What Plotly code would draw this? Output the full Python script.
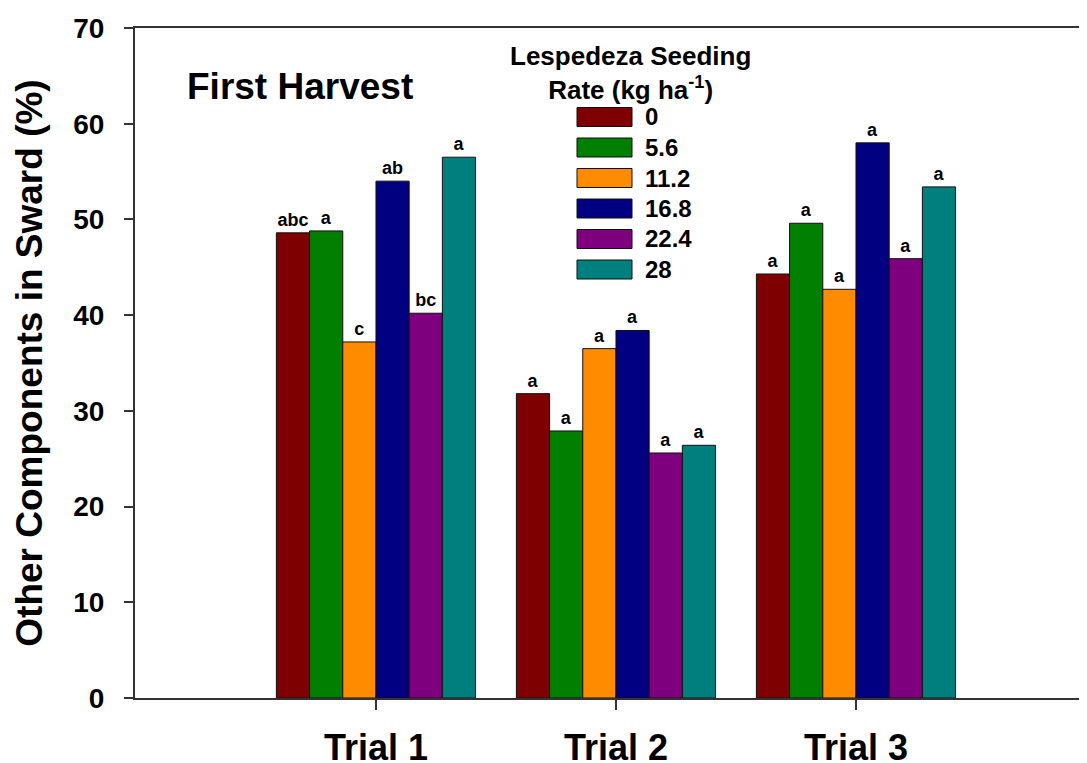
import plotly.graph_objects as go

# ---- data ----
trials = ["Trial 1", "Trial 2", "Trial 3"]
rates = ["0", "5.6", "11.2", "16.8", "22.4", "28"]
rate_0 = [48.6, 31.8, 44.3]
rate_5_6 = [48.8, 27.9, 49.6]
rate_11_2 = [37.2, 36.5, 42.7]
rate_16_8 = [54.0, 38.4, 58.0]
rate_22_4 = [40.2, 25.6, 45.9]
rate_28 = [56.5, 26.4, 53.4]
letters_0 = ["abc", "a", "a"]
letters_5_6 = ["a", "a", "a"]
letters_11_2 = ["c", "a", "a"]
letters_16_8 = ["ab", "a", "a"]
letters_22_4 = ["bc", "a", "a"]
letters_28 = ["a", "a", "a"]
y_ticks = [0, 10, 20, 30, 40, 50, 60, 70]

series = [rate_0, rate_5_6, rate_11_2, rate_16_8, rate_22_4, rate_28]
letters = [letters_0, letters_5_6, letters_11_2, letters_16_8, letters_22_4, letters_28]
colors = ["#7f0000", "#007f00", "#ff8c00", "#000080", "#7f007f", "#007f7f"]

# page has an 8px body margin; size the figure so it fits the 1087x763 window
OFF = 8
W, H = 1087 - OFF, 763 - OFF
ML, MR, MT, MB = 135 - OFF, 0, 28 - OFF, 65
PW, PH = W - ML - MR, H - MT - MB


def px_x(px):
    return (px - OFF - ML) / PW


def px_y(py):
    return (H - MB - (py - OFF)) / PH


FONT = "Liberation Sans, Arial, sans-serif"

fig = go.Figure()
for name, vals, lab, col in zip(rates, series, letters, colors):
    fig.add_trace(go.Bar(
        x=trials, y=vals, name=name, text=lab,
        textposition="outside", constraintext="none", cliponaxis=False,
        textfont=dict(size=18, color="black", family=FONT, weight="bold"),
        marker=dict(color=col, line=dict(color="#111111", width=1)),
        showlegend=False,
    ))

# custom legend (large swatches, as in the reference)
shapes = []
annotations = []
row0, row_step = 117, 30.5
for i, (name, col) in enumerate(zip(rates, colors)):
    cy = row0 + i * row_step
    shapes.append(dict(type="rect", xref="paper", yref="paper",
                       x0=px_x(577), x1=px_x(632), y0=px_y(cy + 9.5), y1=px_y(cy - 9.5),
                       fillcolor=col, line=dict(color="#111111", width=1)))
    annotations.append(dict(xref="paper", yref="paper", x=px_x(643), y=px_y(cy),
                            xanchor="left", yanchor="middle", text=name, showarrow=False,
                            font=dict(size=24, color="black", family=FONT, weight="bold")))

annotations.append(dict(xref="paper", yref="paper", x=px_x(630), y=px_y(73),
                        xanchor="center", yanchor="middle", align="center", showarrow=False,
                        text="Lespedeza Seeding<br>Rate (kg ha<sup>-1</sup>)",
                        font=dict(size=26, color="black", family=FONT, weight="bold")))
annotations.append(dict(xref="paper", yref="paper", x=px_x(300), y=px_y(86),
                        xanchor="center", yanchor="middle", showarrow=False,
                        text="First Harvest",
                        font=dict(size=37, color="black", family=FONT, weight="bold")))

fig.update_layout(
    template="none",
    width=W, height=H,
    margin=dict(l=ML, r=MR, t=MT, b=MB, pad=0),
    paper_bgcolor="white", plot_bgcolor="white",
    barmode="group", bargap=0.17, bargroupgap=0,
    font=dict(family=FONT, color="black"),
    shapes=shapes, annotations=annotations,
    showlegend=False,
)
fig.update_xaxes(
    type="category", range=[-1.004, 2.9625], automargin=False,
    showline=True, linecolor="#333333", linewidth=2, mirror=True,
    ticks="outside", ticklen=10, tickwidth=1.5, tickcolor="#333333",
    tickfont=dict(size=36, family=FONT, weight="bold", color="black"),
    ticklabelstandoff=7, showgrid=False, zeroline=False,
)
fig.update_yaxes(
    range=[0, 70], tickvals=y_ticks, automargin=False,
    showline=True, linecolor="#333333", linewidth=2, mirror=False,
    ticks="outside", ticklen=9, tickwidth=1.5, tickcolor="#333333",
    tickfont=dict(size=28, family=FONT, weight="bold", color="black"),
    ticklabelstandoff=14, showgrid=False, zeroline=False,
    title=dict(text="Other Components in Sward (%)", standoff=19,
               font=dict(size=37, family=FONT, weight="bold", color="black")),
)

fig.write_html("out.html")
